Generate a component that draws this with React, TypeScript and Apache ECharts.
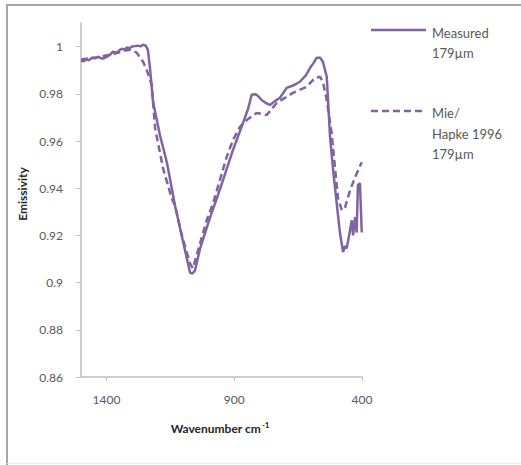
import React, { useEffect, useRef } from "react";
import * as echarts from "echarts";

// Wavenumber (cm^-1) and emissivity
const measuredWave = [1500, 1490, 1480, 1470, 1457, 1445, 1433, 1424, 1414, 1405, 1398, 1386, 1375, 1365, 1355, 1348, 1340, 1330, 1320, 1310, 1300, 1290, 1277, 1267, 1257, 1246, 1238, 1230, 1218, 1191, 1164, 1132, 1106, 1073, 1065, 1054, 1034, 995, 956, 905, 866, 845, 832, 822, 812, 793, 775, 760, 740, 721, 695, 670, 643, 620, 603, 590, 577, 564, 553, 538, 525, 513, 499, 486, 474, 467, 460, 447, 440, 435, 427, 421, 416, 408, 401];
const measuredVals = [0.994, 0.9938, 0.9945, 0.9942, 0.9953, 0.995, 0.9957, 0.9952, 0.9949, 0.9953, 0.9957, 0.9966, 0.9979, 0.9974, 0.9979, 0.9986, 0.9991, 0.9988, 0.9996, 0.9994, 1.0, 1.0002, 1.0004, 1.0001, 1.0008, 1.0004, 0.9985, 0.991, 0.9766, 0.9625, 0.951, 0.9327, 0.92, 0.9042, 0.9038, 0.905, 0.9144, 0.9275, 0.9395, 0.9562, 0.9676, 0.974, 0.9796, 0.9798, 0.9796, 0.9774, 0.976, 0.9753, 0.977, 0.9783, 0.9825, 0.9835, 0.9851, 0.9878, 0.991, 0.993, 0.9953, 0.9953, 0.9936, 0.9872, 0.9617, 0.9477, 0.9336, 0.9208, 0.9129, 0.9155, 0.9145, 0.9221, 0.9264, 0.92, 0.9277, 0.9212, 0.9413, 0.9421, 0.9212];

const modelWave = [1500, 1426, 1367, 1328, 1308, 1282, 1257, 1243, 1223, 1210, 1179, 1145, 1132, 1105, 1073, 1062, 1042, 1022, 1008, 983, 930, 905, 878, 851, 812, 773, 734, 670, 616, 584, 564, 553, 538, 519, 506, 494, 479, 466, 447, 427, 401];
const modelVals = [0.9945, 0.9957, 0.997, 0.9983, 0.9987, 0.9974, 0.9936, 0.9902, 0.9838, 0.9655, 0.9485, 0.9357, 0.9327, 0.92, 0.908, 0.906, 0.9136, 0.9212, 0.9264, 0.9336, 0.9532, 0.9604, 0.966, 0.9689, 0.9719, 0.971, 0.9761, 0.9804, 0.983, 0.9868, 0.9872, 0.985, 0.9774, 0.9634, 0.949, 0.936, 0.9306, 0.932, 0.939, 0.9447, 0.951];

const xTicks = [400, 900, 1400];
const yTicks = [0.86, 0.88, 0.9, 0.92, 0.94, 0.96, 0.98, 1.0];

const PURPLE = "#8064A2";
const FONT = "Lato, 'Open Sans', sans-serif";

export default function App() {
  const ref = useRef<HTMLDivElement>(null);
  useEffect(() => {
    if (!ref.current) return;
    const chart = echarts.init(ref.current, null, { renderer: "svg" });
    const measured = measuredWave.map((w, i) => [w, measuredVals[i]]);
    const model = modelWave.map((w, i) => [w, modelVals[i]]);
    chart.setOption({
      animation: false,
      backgroundColor: "#ffffff",
      grid: { left: 81, top: 23, right: 159, bottom: 88, containLabel: false },
      xAxis: {
        type: "value",
        inverse: true,
        min: 400,
        max: 1500,
        axisLine: { show: true, lineStyle: { color: "#bfbfbf", width: 1.5 } },
        axisTick: { show: true, length: 4, lineStyle: { color: "#bfbfbf" }, customValues: xTicks },
        axisLabel: {
          customValues: xTicks,
          formatter: (v: number) => String(v),
          color: "#595959",
          fontSize: 12,
          fontFamily: FONT,
          margin: 16,
        },
        splitLine: { show: false },
      },
      yAxis: {
        type: "value",
        min: 0.86,
        max: 1.01,
        axisLine: { show: true, lineStyle: { color: "#bfbfbf", width: 1.5 } },
        axisTick: { show: true, length: 5, lineStyle: { color: "#bfbfbf" }, customValues: yTicks },
        axisLabel: {
          customValues: yTicks,
          formatter: (v: number) => String(Number(v.toFixed(2))),
          color: "#595959",
          fontSize: 12,
          fontFamily: FONT,
          margin: 18,
        },
        splitLine: { show: false },
      },
      series: [
        {
          name: "Measured 179µm",
          type: "line",
          data: measured,
          showSymbol: false,
          lineStyle: { color: PURPLE, width: 2.5 },
          itemStyle: { color: PURPLE },
          z: 3,
        },
        {
          name: "Mie/Hapke 1996 179µm",
          type: "line",
          data: model,
          showSymbol: false,
          lineStyle: { color: PURPLE, width: 2.5, type: [7, 4] },
          itemStyle: { color: PURPLE },
          z: 2,
        },
      ],
      graphic: [
        { type: "line", shape: { x1: 6, y1: 5, x2: 521, y2: 5 }, style: { stroke: "#a6a6a6", lineWidth: 2 } },
        { type: "line", shape: { x1: 7, y1: 4, x2: 7, y2: 465 }, style: { stroke: "#a6a6a6", lineWidth: 2 } },
        { type: "line", shape: { x1: 7, y1: 463.5, x2: 521, y2: 463.5 }, style: { stroke: "#ececec", lineWidth: 1 } },
        { type: "line", shape: { x1: 371, y1: 30, x2: 426, y2: 30 }, style: { stroke: PURPLE, lineWidth: 2.5 } },
        { type: "line", shape: { x1: 371, y1: 111, x2: 426, y2: 111 }, style: { stroke: PURPLE, lineWidth: 2.5, lineDash: [7, 4] } },
        {
          type: "text",
          left: 432,
          top: 23,
          style: { text: "Measured\n179µm", fill: "#595959", font: `13px ${FONT}`, lineHeight: 20 },
        },
        {
          type: "text",
          left: 432,
          top: 103,
          style: { text: "Mie/\nHapke 1996\n179µm", fill: "#595959", font: `13px ${FONT}`, lineHeight: 20.5 },
        },
        {
          type: "text",
          x: 22,
          y: 194,
          rotation: Math.PI / 2,
          style: {
            text: "Emissivity",
            fill: "#262626",
            font: `bold 12px ${FONT}`,
            align: "center",
            verticalAlign: "middle",
          },
        },
        {
          type: "text",
          x: 220,
          y: 428,
          style: {
            text: "{a|Wavenumber cm}{s|-1}",
            align: "center",
            verticalAlign: "middle",
            rich: {
              a: { fill: "#262626", font: `bold 12px ${FONT}` },
              s: { fill: "#262626", font: `bold 8px ${FONT}`, padding: [0, 0, 7, 1] },
            },
          },
        },
      ],
    });
    return () => chart.dispose();
  }, []);
  return (
    <div
      ref={ref}
      style={{ position: "absolute", left: 0, top: 0, width: 521, height: 465 }}
    />
  );
}
